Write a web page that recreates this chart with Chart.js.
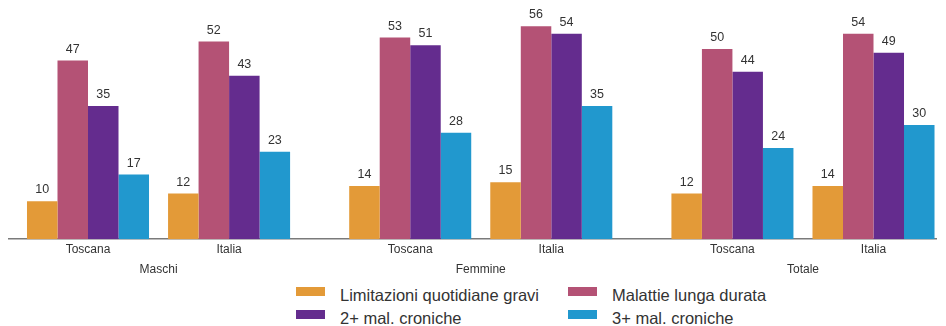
<!DOCTYPE html>
<html>
<head>
<meta charset="utf-8">
<script src="https://cdn.jsdelivr.net/npm/chart.js@4/dist/chart.umd.min.js"></script>
<style>
  html, body { margin: 0; padding: 0; background: #fff; }
  body { width: 946px; height: 326px; position: relative; overflow: hidden; font-family: "Liberation Sans", Arial, sans-serif; }
  #wrap { position: absolute; left: 0; top: 0; width: 946px; height: 280px; }
  #legend { position: absolute; left: 296px; top: 284px; display: grid; grid-template-columns: 272px auto; }
  .item { display: flex; align-items: flex-start; height: 23px; line-height: 23px; font-size: 16.5px; color: #333; white-space: nowrap; }
  .box { width: 29px; height: 9px; margin-top: 3px; margin-right: 15px; flex: none; }
</style>
</head>
<body>
<div id="wrap"><canvas id="chart"></canvas></div>
<div id="legend"></div>
<script>
// categories
const groups = ["Maschi", "Femmine", "Totale"];
const areas = ["Toscana", "Italia"];

// values (%) per indicator, in order: Maschi Toscana/Italia, Femmine Toscana/Italia, Totale Toscana/Italia
const limitazioni = [10, 12, 14, 15, 12, 14];
const malattieLunga = [47, 52, 53, 56, 50, 54];
const dueCroniche = [35, 43, 51, 54, 44, 49];
const treCroniche = [17, 23, 28, 35, 24, 30];

const seriesNames = ["Limitazioni quotidiane gravi", "Malattie lunga durata", "2+ mal. croniche", "3+ mal. croniche"];
const seriesColors = ["#E39A38", "#B45275", "#642C8E", "#2198CE"];

// slot positions on the x scale: the two areas of a group sit closer than the groups do
const xPos = [0, 1, 2.284, 3.284, 4.568, 5.568];
const groupMid = [0.5, 2.784, 5.068];
const xLabels = xPos.map((_, i) => areas[i % 2]);

const seriesValues = [limitazioni, malattieLunga, dueCroniche, treCroniche];

const datasets = seriesValues.map((vals, i) => ({
  label: seriesNames[i],
  data: vals.map((v, j) => ({ x: xPos[j], y: v })),
  backgroundColor: seriesColors[i],
  categoryPercentage: 0.865,
  barPercentage: 1.0,
  xAxisID: "x"
}));

// value labels above each bar
const valueLabels = {
  id: "valueLabels",
  afterDatasetsDraw(chart) {
    const ctx = chart.ctx;
    ctx.save();
    ctx.font = "12.5px 'Liberation Sans', Arial, sans-serif";
    ctx.fillStyle = "#333";
    ctx.textAlign = "center";
    ctx.textBaseline = "bottom";
    chart.data.datasets.forEach((ds, i) => {
      chart.getDatasetMeta(i).data.forEach((bar, j) => {
        ctx.fillText(ds.data[j].y, bar.x, bar.y - 5);
      });
    });
    ctx.restore();
  }
};

const xMin = -0.56, xMax = 6.011;
const tickFont = { family: "'Liberation Sans', Arial, sans-serif", size: 12 };

new Chart(document.getElementById("chart"), {
  type: "bar",
  data: { datasets },
  options: {
    responsive: true,
    maintainAspectRatio: false,
    animation: false,
    layout: { padding: { left: 9, right: 10, top: 11, bottom: 0 } },
    plugins: { legend: { display: false }, tooltip: { enabled: false } },
    scales: {
      x: {
        type: "linear",
        min: xMin,
        max: xMax,
        offset: false,
        position: "bottom",
        grid: { display: false, drawTicks: false, offset: false },
        border: { display: true, color: "#7a7a7a", width: 1.5 },
        afterBuildTicks: (scale) => { scale.ticks = xPos.map(v => ({ value: v })); },
        ticks: {
          autoSkip: false,
          maxRotation: 0,
          padding: 3,
          color: "#333",
          font: tickFont,
          callback: (v, i) => xLabels[i]
        }
      },
      x2: {
        type: "linear",
        min: xMin,
        max: xMax,
        offset: false,
        position: "bottom",
        grid: { display: false, drawTicks: false, offset: false },
        border: { display: false },
        afterBuildTicks: (scale) => { scale.ticks = groupMid.map(v => ({ value: v })); },
        ticks: {
          autoSkip: false,
          maxRotation: 0,
          padding: 3,
          color: "#333",
          font: tickFont,
          callback: (v, i) => groups[i]
        }
      },
      y: {
        display: false,
        min: 0,
        max: 60
      }
    }
  },
  plugins: [valueLabels]
});

// legend in two columns
const legend = document.getElementById("legend");
seriesNames.forEach((name, i) => {
  const item = document.createElement("div");
  item.className = "item";
  item.innerHTML = '<span class="box" style="background:' + seriesColors[i] + '"></span><span>' + name + '</span>';
  legend.appendChild(item);
});
</script>
</body>
</html>
